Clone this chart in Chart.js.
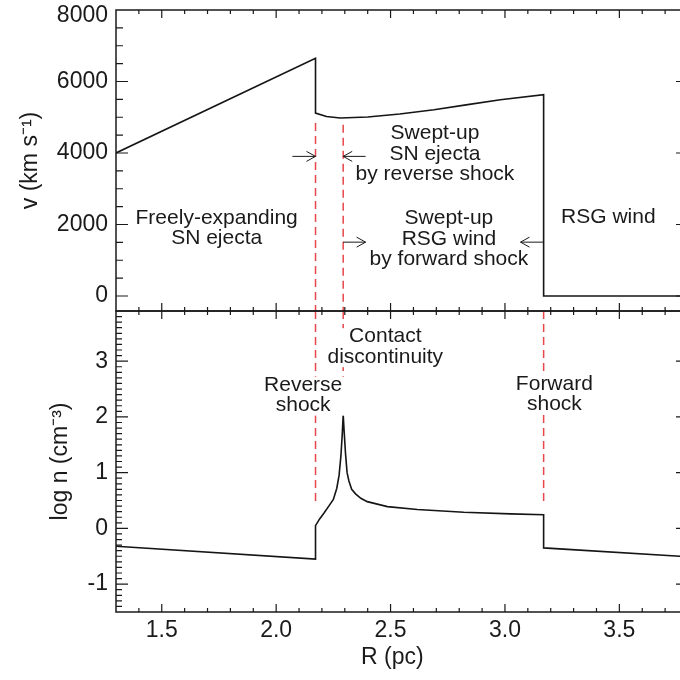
<!DOCTYPE html>
<html>
<head>
<meta charset="utf-8">
<script src="https://cdn.jsdelivr.net/npm/chart.js@4.4.1/dist/chart.umd.min.js"></script>
<style>
  html, body { margin: 0; padding: 0; background: #fff; overflow: hidden; }
  #wrap { width: 692px; height: 680px; }
</style>
</head>
<body>
<div id="wrap"><canvas id="shockChart" width="692" height="680"></canvas></div>
<script>
// Velocity profile, v (km/s) vs R (pc)
const velR = [1.3, 2.172, 2.172, 2.22, 2.28, 2.4, 2.54, 2.69, 2.83, 2.98, 3.169, 3.169, 3.8];
const velV = [4000, 6650, 5115, 5020, 4980, 5005, 5090, 5210, 5345, 5490, 5630, 0, 0];

// Density profile, log n (cm^-3) vs R (pc)
const denR = [1.3, 2.172, 2.172, 2.19, 2.21, 2.23, 2.25, 2.265, 2.275, 2.283, 2.289, 2.293,
              2.297, 2.303, 2.31, 2.318, 2.33, 2.347, 2.37, 2.398, 2.486, 2.617, 2.82, 3.024, 3.169, 3.169, 3.8];
const denN = [-0.32, -0.55, 0.05, 0.17, 0.28, 0.40, 0.52, 0.72, 0.95, 1.3, 1.7, 2.04,
              1.75, 1.35, 1.0, 0.85, 0.7, 0.62, 0.54, 0.48, 0.39, 0.34, 0.29, 0.26, 0.245, -0.35, -0.51];

// Shock / discontinuity positions (pc)
const reverseR = 2.172;
const contactR = 2.293;
const forwardR = 3.169;

// Tick labels
const xTickVals = [1.5, 2.0, 2.5, 3.0, 3.5];
const vTickVals = [0, 2000, 4000, 6000, 8000];
const nTickVals = [-1, 0, 1, 2, 3];

const FONT = '"Liberation Sans", Arial, Helvetica, sans-serif';
const INK = '#1a1a1a';
const DASH_RED = '#e8474c';

// Text labels placed in data coordinates
const notes = [
  { axis: 'yV', r: 1.740, y: 1900, lines: ['Freely-expanding', 'SN ejecta'] },
  { axis: 'yV', r: 2.694, y: 3980, lines: ['Swept-up', 'SN ejecta', 'by reverse shock'] },
  { axis: 'yV', r: 2.755, y: 1595, lines: ['Swept-up', 'RSG wind', 'by forward shock'] },
  { axis: 'yV', r: 3.452, y: 2190, lines: ['RSG wind'] },
  { axis: 'yN', r: 2.477, y: 3.26, lines: ['Contact', 'discontinuity'], box: true },
  { axis: 'yN', r: 2.118, y: 2.39, lines: ['Reverse', 'shock'], box: true },
  { axis: 'yN', r: 3.216, y: 2.41, lines: ['Forward', 'shock'], box: true }
];

// Arrows (tail -> head) in the velocity panel
const arrows = [
  { from: 2.071, to: reverseR, v: 3905 },
  { from: 2.391, to: contactR, v: 3905 },
  { from: contactR, to: 2.391, v: 1506 },
  { from: forwardR, to: 3.068, v: 1506 }
];

function pts(xs, ys) { return xs.map((x, i) => ({ x: x, y: ys[i] })); }

const solid = { showLine: true, borderColor: '#151515', borderWidth: 1.6, pointRadius: 0, tension: 0 };
const dashed = { showLine: true, borderColor: DASH_RED, borderWidth: 1.5, borderDash: [8, 5], pointRadius: 0 };

// inward tick marks, frames, notes and arrows
const decor = {
  id: 'decor',
  afterDatasetsDraw(chart) {
    const { ctx, scales } = chart;
    const x = scales.x;
    ctx.save();

    // notes
    ctx.font = '21px ' + FONT;
    ctx.textAlign = 'center';
    ctx.textBaseline = 'middle';
    const lh = 20.5;
    notes.forEach(n => {
      const ys = scales[n.axis];
      const cx = x.getPixelForValue(n.r);
      const cy = ys.getPixelForValue(n.y);
      const h = n.lines.length * lh;
      if (n.box) {
        const w = Math.max(...n.lines.map(l => ctx.measureText(l).width));
        ctx.fillStyle = '#fff';
        ctx.fillRect(cx - w / 2 - 2, cy - h / 2 + 2, w + 4, h - 2);
      }
      ctx.fillStyle = INK;
      n.lines.forEach((l, i) => ctx.fillText(l, cx, cy - h / 2 + lh * (i + 0.5)));
    });

    // arrows
    ctx.strokeStyle = INK;
    ctx.lineWidth = 1;
    arrows.forEach(a => {
      const yv = scales.yV.getPixelForValue(a.v);
      const x0 = x.getPixelForValue(a.from);
      const x1 = x.getPixelForValue(a.to);
      const dir = x1 > x0 ? 1 : -1;
      ctx.beginPath();
      ctx.moveTo(x0, yv); ctx.lineTo(x1, yv);
      ctx.moveTo(x1 - dir * 9, yv - 5); ctx.lineTo(x1, yv); ctx.lineTo(x1 - dir * 9, yv + 5);
      ctx.stroke();
    });

    // frames + tick marks
    ctx.strokeStyle = INK;
    ctx.lineWidth = 1.5;
    const L = x.left, R = x.right;
    [scales.yV, scales.yN].forEach(ys => {
      ctx.strokeRect(L, ys.top, R - L, ys.bottom - ys.top);
      ctx.lineWidth = 1.2;
      ctx.beginPath();
      for (let k = 14; k < 38; k++) {
        const px = x.getPixelForValue(k / 10);
        const len = k % 5 === 0 ? 8 : 4;
        ctx.moveTo(px, ys.top); ctx.lineTo(px, ys.top + len);
        ctx.moveTo(px, ys.bottom); ctx.lineTo(px, ys.bottom - len);
      }
      ctx.stroke();
      ctx.lineWidth = 1.5;
    });

    ctx.lineWidth = 1.2;
    ctx.beginPath();
    for (let v = 0; v < 8000; v += 500) {
      const py = scales.yV.getPixelForValue(v);
      const len = v % 2000 === 0 ? 12 : 7;
      ctx.moveTo(L, py); ctx.lineTo(L + len, py);
      ctx.moveTo(R, py); ctx.lineTo(R - len, py);
    }
    for (let k = -14; k < 39; k++) {
      const py = scales.yN.getPixelForValue(k / 10);
      const len = k % 10 === 0 ? 12 : 6;
      ctx.moveTo(L, py); ctx.lineTo(L + len, py);
      ctx.moveTo(R, py); ctx.lineTo(R - len, py);
    }
    ctx.stroke();
    ctx.restore();
  }
};

function fixedTicks(vals) {
  return scale => { scale.ticks = vals.map(v => ({ value: v })); };
}

const tickFont = { family: FONT, size: 23 };
const titleFont = { family: FONT, size: 23 };
const topMax = vTickVals[vTickVals.length - 1];

new Chart(document.getElementById('shockChart'), {
  type: 'scatter',
  data: {
    datasets: [
      Object.assign({ label: 'v', data: pts(velR, velV), yAxisID: 'yV' }, solid),
      Object.assign({ label: 'log n', data: pts(denR, denN), yAxisID: 'yN' }, solid),
      Object.assign({ label: 'reverse (v)', data: pts([reverseR, reverseR], [4840, -420]), yAxisID: 'yV' }, dashed),
      Object.assign({ label: 'contact (v)', data: pts([contactR, contactR], [4790, -420]), yAxisID: 'yV' }, dashed),
      Object.assign({ label: 'reverse (n)', data: pts([reverseR, reverseR], [3.9, 0.4]), yAxisID: 'yN' }, dashed),
      Object.assign({ label: 'contact (n)', data: pts([contactR, contactR], [3.9, 2.05]), yAxisID: 'yN' }, dashed),
      Object.assign({ label: 'forward (n)', data: pts([forwardR, forwardR], [3.9, 0.48]), yAxisID: 'yN' }, dashed)
    ]
  },
  options: {
    responsive: false,
    animation: false,
    layout: { padding: { left: 0, right: 4, top: 10, bottom: 0 } },
    plugins: { legend: { display: false }, tooltip: { enabled: false } },
    scales: {
      x: {
        type: 'linear', position: 'bottom', min: 1.3, max: 3.8,
        grid: { display: false, drawTicks: false }, border: { display: false },
        afterBuildTicks: fixedTicks(xTickVals),
        afterFit: s => { s.height = 68; s.paddingLeft = 0; s.paddingRight = 0; },
        ticks: { font: tickFont, color: INK, padding: 5, maxRotation: 0, callback: v => v.toFixed(1) },
        title: { display: true, text: 'R (pc)   ', font: titleFont, color: INK, padding: { top: 0, bottom: 9 } }
      },
      yN: {
        type: 'linear', position: 'left', stack: 'panels', stackWeight: 1, min: -1.5, max: 3.9,
        grid: { display: false, drawTicks: false }, border: { display: false },
        afterBuildTicks: fixedTicks(nTickVals),
        afterFit: s => { s.width = 116; s.paddingTop = 0; s.paddingBottom = 0; },
        ticks: { font: tickFont, color: INK, padding: 8, callback: v => String(v) },
        title: { display: true, text: 'log n (cm\u207B\u00B3)', font: titleFont, color: INK, padding: { top: 47, bottom: 0 } }
      },
      yV: {
        type: 'linear', position: 'left', stack: 'panels', stackWeight: 1, min: -420, max: topMax,
        grid: { display: false, drawTicks: false }, border: { display: false },
        afterBuildTicks: fixedTicks(vTickVals),
        afterFit: s => { s.width = 116; s.paddingTop = 0; s.paddingBottom = 0; },
        ticks: {
          color: INK, padding: 8,
          // the top label sits a little below the frame edge, as in the original
          font: c => (c.tick && c.tick.value === topMax) ? { family: FONT, size: 23, lineHeight: 0.45 } : tickFont,
          callback: v => v === topMax ? ['', String(v)] : String(v)
        },
        title: { display: true, text: 'v (km s\u207B\u00B9)', font: titleFont, color: INK, padding: { top: 17, bottom: 0 } }
      }
    }
  },
  plugins: [decor]
});
</script>
</body>
</html>
